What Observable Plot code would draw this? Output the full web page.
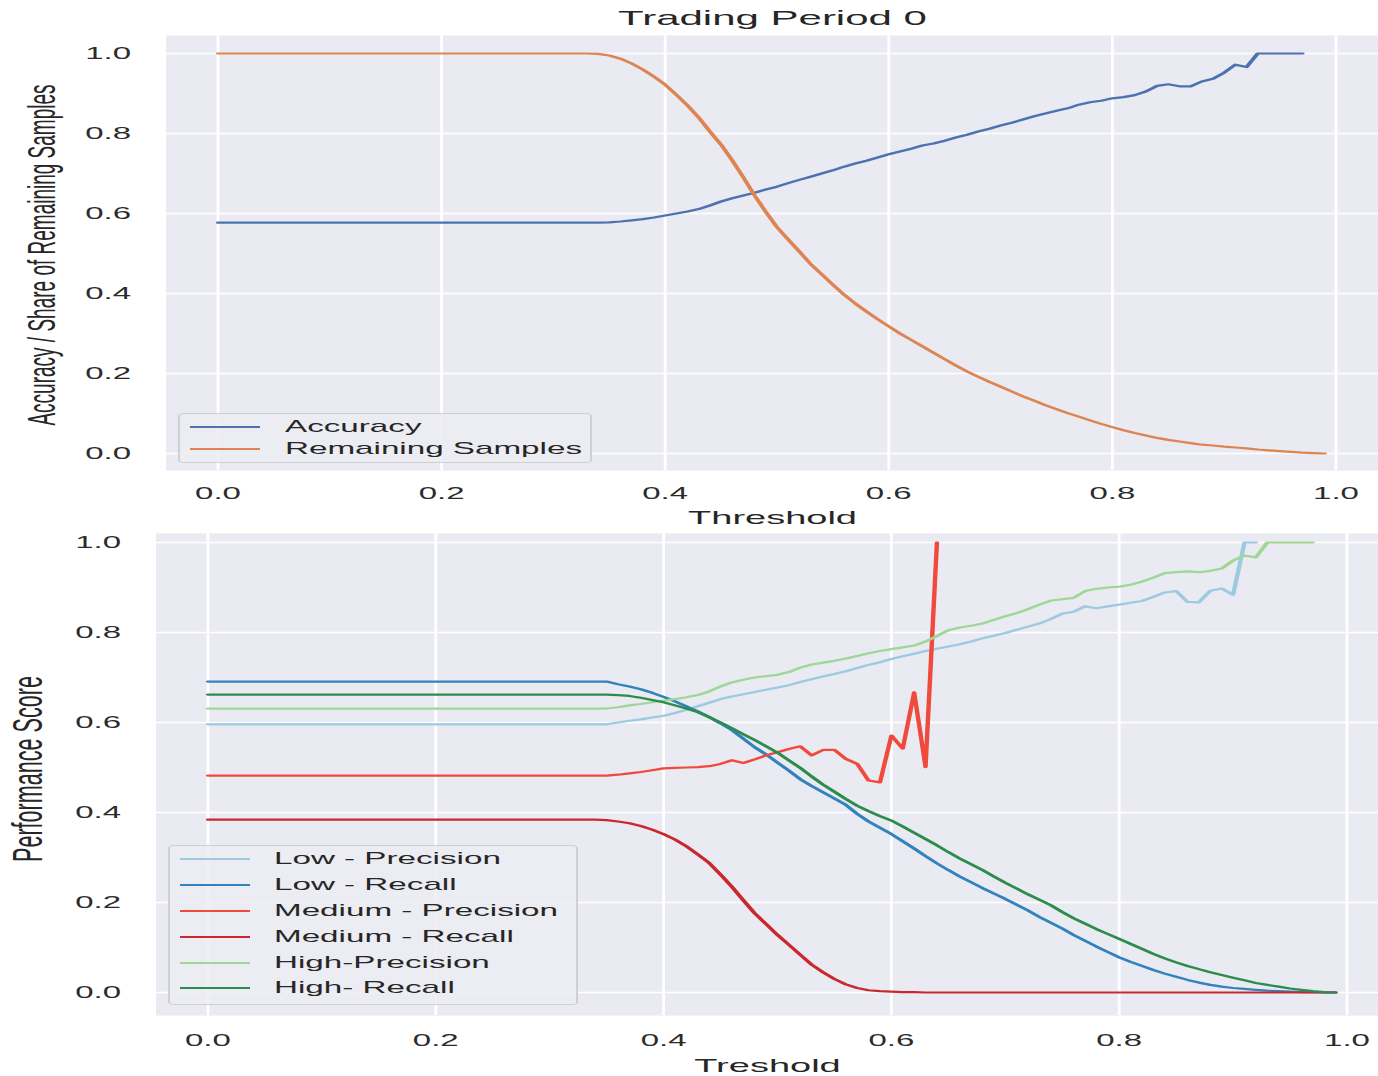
<!DOCTYPE html>
<html><head><meta charset="utf-8">
<script src="https://cdn.jsdelivr.net/npm/d3@7"></script>
<script src="https://cdn.jsdelivr.net/npm/@observablehq/plot@0.6"></script>
<style>
html,body{margin:0;padding:0;background:#fff;}
body{width:1378px;height:1076px;overflow:hidden;position:relative;font-family:"Liberation Sans",Arial,sans-serif;color:#262626;}
#stage{position:absolute;left:0;top:0;width:689px;height:1076px;transform:scaleX(2);transform-origin:0 0;}
.panel{position:absolute;left:0;}
.ylab{position:absolute;white-space:nowrap;transform:translate(-50%,-50%) rotate(-90deg);line-height:1;color:#262626;}
.legend{position:absolute;box-sizing:border-box;border:1px solid #cfcfd4;border-radius:3px;background:rgba(236,236,243,0.85);}
.row{position:absolute;white-space:nowrap;font-size:16.6px;line-height:1;transform:translateY(-50%);color:#262626;}
.sw{position:absolute;height:2.2px;width:35px;}
</style></head><body><div id="stage"></div>
<script>
// ---------- data ----------
const thresholds = [
0.00,0.01,0.02,0.03,0.04,0.05,0.06,0.07,0.08,0.09,
0.10,0.11,0.12,0.13,0.14,0.15,0.16,0.17,0.18,0.19,
0.20,0.21,0.22,0.23,0.24,0.25,0.26,0.27,0.28,0.29,
0.30,0.31,0.32,0.33,0.34,0.35,0.36,0.37,0.38,0.39,
0.40,0.41,0.42,0.43,0.44,0.45,0.46,0.47,0.48,0.49,
0.50,0.51,0.52,0.53,0.54,0.55,0.56,0.57,0.58,0.59,
0.60,0.61,0.62,0.63,0.64,0.65,0.66,0.67,0.68,0.69,
0.70,0.71,0.72,0.73,0.74,0.75,0.76,0.77,0.78,0.79,
0.80,0.81,0.82,0.83,0.84,0.85,0.86,0.87,0.88,0.89,
0.90,0.91,0.92,0.93,0.94,0.95,0.96,0.97,0.98,0.99];

const accuracy = [
0.577,0.577,0.577,0.577,0.577,0.577,0.577,0.577,0.577,0.577,
0.577,0.577,0.577,0.577,0.577,0.577,0.577,0.577,0.577,0.577,
0.577,0.577,0.577,0.577,0.577,0.577,0.577,0.577,0.577,0.577,
0.577,0.577,0.577,0.577,0.577,0.578,0.580,0.583,0.586,0.590,
0.595,0.600,0.605,0.611,0.620,0.630,0.638,0.645,0.652,0.660,
0.667,0.676,0.684,0.692,0.700,0.708,0.717,0.725,0.732,0.740,
0.748,0.755,0.762,0.770,0.775,0.782,0.790,0.797,0.805,0.812,
0.820,0.827,0.835,0.843,0.850,0.857,0.863,0.872,0.878,0.882,
0.888,0.891,0.896,0.905,0.919,0.923,0.918,0.918,0.930,0.937,
0.952,0.972,0.966,1.000,1.000,1.000,1.000,1.000,null,null];

const remainingSamples = [
1,1,1,1,1,1,1,1,1,1,
1,1,1,1,1,1,1,1,1,1,
1,1,1,1,1,1,1,1,1,1,
1,1,1,1,0.999,0.995,0.987,0.975,0.960,0.942,
0.922,0.897,0.870,0.840,0.805,0.772,0.733,0.690,0.645,0.604,
0.566,0.535,0.505,0.474,0.448,0.422,0.397,0.375,0.355,0.336,
0.318,0.300,0.284,0.268,0.252,0.236,0.220,0.205,0.192,0.179,
0.167,0.155,0.143,0.132,0.121,0.111,0.101,0.092,0.083,0.074,
0.066,0.058,0.051,0.045,0.039,0.034,0.030,0.026,0.022,0.020,
0.017,0.015,0.013,0.010,0.008,0.006,0.004,0.002,0.001,0.000];

const lowPrecision = [
0.596,0.596,0.596,0.596,0.596,0.596,0.596,0.596,0.596,0.596,
0.596,0.596,0.596,0.596,0.596,0.596,0.596,0.596,0.596,0.596,
0.596,0.596,0.596,0.596,0.596,0.596,0.596,0.596,0.596,0.596,
0.596,0.596,0.596,0.596,0.596,0.596,0.600,0.604,0.607,0.611,
0.615,0.621,0.628,0.636,0.644,0.652,0.658,0.663,0.668,0.673,
0.678,0.683,0.690,0.696,0.702,0.708,0.714,0.721,0.728,0.734,
0.741,0.747,0.753,0.759,0.764,0.769,0.774,0.780,0.787,0.793,
0.799,0.806,0.813,0.820,0.830,0.842,0.846,0.858,0.854,0.858,
0.862,0.866,0.870,0.879,0.889,0.892,0.868,0.867,0.893,0.898,
0.884,1.000,1.000,null,null,null,null,null,null,null];

const lowRecall = [
0.691,0.691,0.691,0.691,0.691,0.691,0.691,0.691,0.691,0.691,
0.691,0.691,0.691,0.691,0.691,0.691,0.691,0.691,0.691,0.691,
0.691,0.691,0.691,0.691,0.691,0.691,0.691,0.691,0.691,0.691,
0.691,0.691,0.691,0.691,0.691,0.691,0.685,0.680,0.674,0.666,
0.657,0.647,0.636,0.625,0.612,0.598,0.583,0.564,0.545,0.529,
0.511,0.493,0.474,0.459,0.445,0.431,0.417,0.397,0.380,0.366,
0.352,0.336,0.320,0.303,0.287,0.272,0.258,0.245,0.232,0.220,
0.208,0.195,0.182,0.168,0.155,0.142,0.128,0.115,0.102,0.090,
0.078,0.068,0.059,0.050,0.042,0.035,0.028,0.022,0.017,0.013,
0.010,0.008,0.006,0.004,0.003,0.002,0.001,0.001,0.000,0.000];

const mediumPrecision = [
0.482,0.482,0.482,0.482,0.482,0.482,0.482,0.482,0.482,0.482,
0.482,0.482,0.482,0.482,0.482,0.482,0.482,0.482,0.482,0.482,
0.482,0.482,0.482,0.482,0.482,0.482,0.482,0.482,0.482,0.482,
0.482,0.482,0.482,0.482,0.482,0.482,0.484,0.487,0.490,0.494,
0.498,0.499,0.500,0.501,0.503,0.508,0.516,0.510,0.518,0.527,
0.534,0.541,0.547,0.527,0.539,0.539,0.519,0.508,0.471,0.467,
0.571,0.542,0.667,0.501,1.000,null,null,null,null,null,
null,null,null,null,null,null,null,null,null,null,
null,null,null,null,null,null,null,null,null,null,
null,null,null,null,null,null,null,null,null,null];

const mediumRecall = [
0.384,0.384,0.384,0.384,0.384,0.384,0.384,0.384,0.384,0.384,
0.384,0.384,0.384,0.384,0.384,0.384,0.384,0.384,0.384,0.384,
0.384,0.384,0.384,0.384,0.384,0.384,0.384,0.384,0.384,0.384,
0.384,0.384,0.384,0.384,0.384,0.383,0.380,0.376,0.370,0.362,
0.352,0.340,0.325,0.307,0.288,0.262,0.235,0.205,0.176,0.152,
0.128,0.106,0.084,0.062,0.045,0.030,0.018,0.010,0.005,0.003,
0.002,0.001,0.001,0.000,0.000,0.000,0.000,0.000,0.000,0.000,
0.000,0.000,0.000,0.000,0.000,0.000,0.000,0.000,0.000,0.000,
0.000,0.000,0.000,0.000,0.000,0.000,0.000,0.000,0.000,0.000,
0.000,0.000,0.000,0.000,0.000,0.000,0.000,0.000,0.000,0.000];

const highPrecision = [
0.631,0.631,0.631,0.631,0.631,0.631,0.631,0.631,0.631,0.631,
0.631,0.631,0.631,0.631,0.631,0.631,0.631,0.631,0.631,0.631,
0.631,0.631,0.631,0.631,0.631,0.631,0.631,0.631,0.631,0.631,
0.631,0.631,0.631,0.631,0.631,0.631,0.634,0.638,0.641,0.645,
0.649,0.652,0.656,0.661,0.669,0.680,0.689,0.695,0.700,0.703,
0.706,0.712,0.722,0.729,0.733,0.737,0.742,0.748,0.754,0.759,
0.763,0.767,0.771,0.780,0.792,0.805,0.811,0.815,0.820,0.828,
0.836,0.843,0.852,0.862,0.871,0.874,0.877,0.892,0.897,0.900,
0.902,0.906,0.913,0.922,0.932,0.934,0.936,0.934,0.937,0.942,
0.960,0.971,0.967,1.000,1.000,1.000,1.000,1.000,null,null];

const highRecall = [
0.662,0.662,0.662,0.662,0.662,0.662,0.662,0.662,0.662,0.662,
0.662,0.662,0.662,0.662,0.662,0.662,0.662,0.662,0.662,0.662,
0.662,0.662,0.662,0.662,0.662,0.662,0.662,0.662,0.662,0.662,
0.662,0.662,0.662,0.662,0.662,0.662,0.661,0.659,0.655,0.650,
0.645,0.638,0.631,0.623,0.612,0.600,0.587,0.574,0.561,0.547,
0.533,0.516,0.499,0.480,0.462,0.446,0.430,0.415,0.403,0.392,
0.382,0.369,0.355,0.341,0.327,0.312,0.298,0.285,0.272,0.258,
0.244,0.231,0.218,0.206,0.194,0.179,0.165,0.153,0.141,0.130,
0.119,0.108,0.097,0.086,0.076,0.067,0.059,0.052,0.045,0.039,
0.033,0.027,0.021,0.017,0.013,0.009,0.006,0.003,0.001,0.000];

const axisTicks = [0, 0.2, 0.4, 0.6, 0.8, 1.0];

const topSeries = [
  {name: "Accuracy", values: accuracy, color: "#4C72B0"},
  {name: "Remaining Samples", values: remainingSamples, color: "#DD8452"}
];
const bottomSeries = [
  {name: "Low - Precision", values: lowPrecision, color: "#9ecae1"},
  {name: "Low - Recall", values: lowRecall, color: "#3182bd"},
  {name: "Medium - Precision", values: mediumPrecision, color: "#ef4a3c"},
  {name: "Medium - Recall", values: mediumRecall, color: "#c8282e"},
  {name: "High-Precision", values: highPrecision, color: "#9fd796"},
  {name: "High- Recall", values: highRecall, color: "#2b8c4b"}
];

// ---------- drawing ----------
const FONT = '"Liberation Sans", Arial, Helvetica, sans-serif';
const BG = "#EAEAF2";
const rows = vals => thresholds.map((t, i) => ({t, v: vals[i]})).filter(d => d.v != null);
const stage = document.getElementById("stage");

function panel(series, opts) {
  const svg = Plot.plot({
    width: 689, height: opts.height,
    marginLeft: opts.ml, marginRight: 0, marginTop: opts.mt, marginBottom: opts.mb,
    style: {fontFamily: FONT, fontSize: "16.5px", color: "#2b2b2b", background: "transparent", overflow: "visible"},
    x: {domain: opts.xd, ticks: axisTicks, tickFormat: ".1f", tickSize: 0, tickPadding: opts.xpad, label: null},
    y: {domain: opts.yd, ticks: axisTicks, tickFormat: ".1f", tickSize: 0, tickPadding: 17.5, label: null},
    marks: [
      Plot.frame({fill: BG, stroke: "none"}),
      Plot.ruleX(axisTicks, {stroke: "white", strokeWidth: 1.4}),
      Plot.ruleY(axisTicks, {stroke: "white", strokeWidth: 1.7}),
      ...series.map(s => Plot.line(rows(s.values), {x: "t", y: "v", stroke: s.color, strokeWidth: 2.2})),
      ...opts.texts
    ]
  });
  const wrap = document.createElement("div");
  wrap.className = "panel";
  wrap.style.top = opts.top + "px";
  wrap.appendChild(svg);
  stage.appendChild(wrap);
}

panel(topSeries, {
  top: 0, height: 530, ml: 82.5, mt: 35, mb: 60, xpad: 17,
  xd: [-0.0465, 1.0385], yd: [-0.0425, 1.045],
  texts: [
    Plot.text(["Trading Period 0"], {frameAnchor: "top", dy: -17, fontSize: 21, lineAnchor: "middle", fill: "#262626"}),
    Plot.text(["Threshold"], {frameAnchor: "bottom", dy: 47, fontSize: 19, lineAnchor: "middle", fill: "#262626"})
  ]
});
panel(bottomSeries, {
  top: 530, height: 546, ml: 77.5, mt: 3, mb: 61, xpad: 19,
  xd: [-0.0456, 1.0281], yd: [-0.0511, 1.02],
  texts: [
    Plot.text(["Treshold"], {frameAnchor: "bottom", dy: 50, fontSize: 19, lineAnchor: "middle", fill: "#262626"})
  ]
});

function ylabel(text, cx, cy, size) {
  const d = document.createElement("div");
  d.className = "ylab";
  d.textContent = text;
  d.style.left = cx + "px";
  d.style.top = cy + "px";
  d.style.fontSize = size + "px";
  d.style.fontFamily = FONT;
  stage.appendChild(d);
}
ylabel("Accuracy / Share of Remaining Samples", 21, 255, 19);
ylabel("Performance Score", 13.5, 769, 21.6);

function legend(series, box, rowYs) {
  const lg = document.createElement("div");
  lg.className = "legend";
  Object.assign(lg.style, {left: box.x + "px", top: box.y + "px", width: box.w + "px", height: box.h + "px"});
  series.forEach((s, i) => {
    const ry = rowYs[i] - box.y;
    const sw = document.createElement("div");
    sw.className = "sw";
    Object.assign(sw.style, {left: "5px", top: (ry - 1.1 - 1) + "px", background: s.color});
    const tx = document.createElement("div");
    tx.className = "row";
    tx.textContent = s.name;
    Object.assign(tx.style, {left: "52.5px", top: (ry - 1) + "px", fontFamily: FONT});
    lg.appendChild(sw);
    lg.appendChild(tx);
  });
  stage.appendChild(lg);
}
legend(topSeries, {x: 89, y: 413, w: 207, h: 50}, [427, 449]);
legend(bottomSeries, {x: 83.5, y: 845, w: 205, h: 160}, [859, 885, 911, 937, 963, 988]);
</script>
</body></html>
